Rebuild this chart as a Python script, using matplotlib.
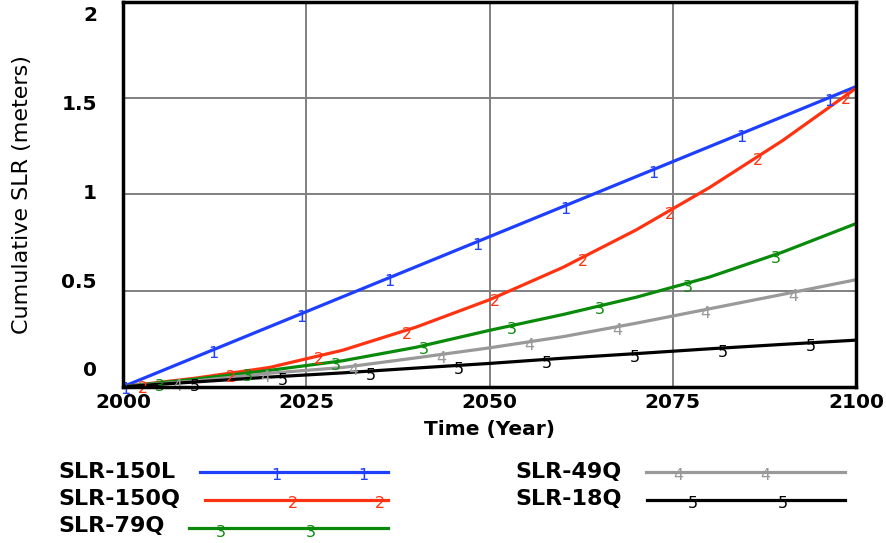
import numpy as np
import matplotlib
matplotlib.use("Agg")
import matplotlib.pyplot as plt
from matplotlib.lines import Line2D
from matplotlib import transforms

# --- data ---
years = [2000, 2010, 2020, 2030, 2040, 2050, 2060, 2070, 2080, 2090, 2100]
slr_150l = [0, 0.156, 0.312, 0.468, 0.624, 0.78, 0.936, 1.092, 1.248, 1.404, 1.56]
slr_150q = [0, 0.045, 0.10, 0.19, 0.31, 0.452, 0.62, 0.815, 1.035, 1.28, 1.552]
slr_79q = [0, 0.04, 0.085, 0.135, 0.205, 0.293, 0.375, 0.465, 0.57, 0.70, 0.848]
slr_49q = [0, 0.03, 0.07, 0.10, 0.15, 0.202, 0.26, 0.33, 0.405, 0.48, 0.556]
slr_18q = [0, 0.025, 0.05, 0.072, 0.097, 0.121, 0.148, 0.172, 0.197, 0.22, 0.242]

series_names = ["SLR-150L", "SLR-150Q", "SLR-79Q", "SLR-49Q", "SLR-18Q"]
series_values = [slr_150l, slr_150q, slr_79q, slr_49q, slr_18q]
colors = ["#1f3fff", "#ff3311", "#0a8a0a", "#999999", "#000000"]

x_ticks = [2000, 2025, 2050, 2075, 2100]
y_ticks = [0, 0.5, 1, 1.5, 2]
y_tick_labels = ["0", "0.5", "1", "1.5", "2"]

W, H = 886, 543
LINE_W = 2.3


def px(x, y):
    """figure pixel (from top-left) -> figure fraction"""
    return x / W, 1 - y / H


fig = plt.figure(figsize=(W / 100, H / 100), dpi=100)
fig.patch.set_facecolor("white")
ax_left, ax_right, ax_top, ax_bottom = 123, 856, 2.0, 386.7
ax = fig.add_axes([ax_left / W, 1 - ax_bottom / H,
                   (ax_right - ax_left) / W, (ax_bottom - ax_top) / H])

ax.set_xlim(2000, 2100)
ax.set_ylim(0, 2)
ax.set_xticks(x_ticks)
ax.set_yticks(y_ticks)
ax.set_yticklabels([])
ax.tick_params(axis="x", length=0, pad=4.5, labelsize=14.5)
ax.tick_params(axis="y", length=0)
for lab in ax.get_xticklabels():
    lab.set_fontweight("bold")
ax.grid(True, color="#808080", linewidth=1.4)
ax.set_axisbelow(True)
for spine in ax.spines.values():
    spine.set_linewidth(2.5)
    spine.set_color("black")
    spine.set_zorder(5)

# y tick labels: Vensim spreads them inside the axis height
lab_tr = transforms.offset_copy(ax.transAxes, fig=fig, x=-26, y=0, units="dots")
frac_top = 1 - (13.3 - ax_top) / (ax_bottom - ax_top)
frac_bot = 1 - (369.0 - ax_top) / (ax_bottom - ax_top)
for v, txt in zip(y_ticks, y_tick_labels):
    yf = frac_bot + v / 2 * (frac_top - frac_bot)
    ax.text(0, yf, txt, transform=lab_tr, ha="right", va="center_baseline",
            fontsize=14.5, fontweight="bold")

# lines with numbered labels
for i, (vals, col) in enumerate(zip(series_values, colors)):
    ax.plot(years, vals, color=col, linewidth=LINE_W, zorder=3)
    start = 2000.3 + 2.38 * i
    for yr in np.arange(start, 2100, 12):
        yv = np.interp(yr, years, vals)
        t = ax.annotate(str(i + 1), xy=(yr, yv), xytext=(0, 2.5),
                        textcoords="offset points", ha="center", va="top",
                        fontsize=11.5, color=col, zorder=4)
        t.set_clip_on(True)

# axis titles
fig.text(*px(490, 435), "Time (Year)", ha="center", va="baseline",
         fontsize=14.5, fontweight="bold")
fig.text(*px(22.5, 194.5), "Cumulative SLR (meters)", rotation=90,
         ha="center", va="center", fontsize=16)

# legend, drawn by hand like the Vensim output
legend_rows = [
    (58, 478, 471.7, 388, [112, 25]),
    (58, 505, 500.0, 388, [95, 8]),
    (58, 532, 528.3, 388, [167, 77]),
    (515, 478, 471.7, 845, [167, 80]),
    (515, 505, 500.0, 845, [152, 62]),
]
fig.canvas.draw()
renderer = fig.canvas.get_renderer()
for (tx, base_y, line_y, x_end, num_off), name, col, i in zip(
        legend_rows, series_names, colors, range(5)):
    t = fig.text(*px(tx, base_y), name, ha="left", va="baseline",
                 fontsize=16, fontweight="bold")
    ext = t.get_window_extent(renderer)
    x_start = ext.x1 + 25
    fig.add_artist(Line2D([x_start / W, x_end / W], [px(0, line_y)[1]] * 2,
                          color=col, linewidth=LINE_W, transform=fig.transFigure))
    for off in num_off:
        fig.text(*px(x_end - off, line_y - 3.5), str(i + 1), ha="center",
                 va="top", fontsize=11.5, color=col)

fig.savefig("out.png", dpi=100)
